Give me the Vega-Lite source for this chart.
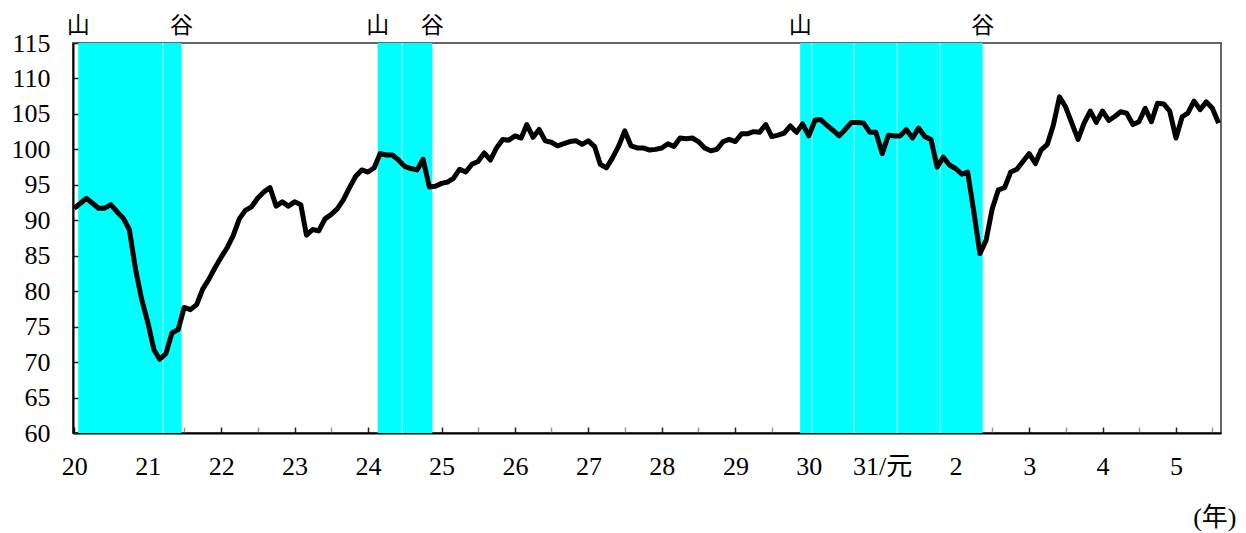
{
  "$schema": "https://vega.github.io/schema/vega-lite/v6.json",
  "width": 1148,
  "height": 390,
  "autosize": {"type": "none"},
  "padding": {"left": 73, "top": 43, "right": 25, "bottom": 100},
  "background": "white",
  "config": {"view": {"stroke": "#666", "strokeWidth": 2}, "font": "Liberation Serif"},
  "datasets": {
    "bands": [
      {"start": "2008-01-21", "end": "2009-06-18"},
      {"start": "2012-02-18", "end": "2012-11-16"},
      {"start": "2017-11-19", "end": "2020-05-15"}
    ],
    "seams": [
      {"date": "2009-03-17"}, {"date": "2012-06-19"}, {"date": "2018-01-16"},
      {"date": "2018-08-15"}, {"date": "2019-03-16"}, {"date": "2019-10-16"}
    ],
    "iip": [
      {"month": "2008-01-01", "value": 91.7}, {"month": "2008-02-01", "value": 92.4}, {"month": "2008-03-01", "value": 93.1}, {"month": "2008-04-01", "value": 92.4}, {"month": "2008-05-01", "value": 91.7}, {"month": "2008-06-01", "value": 91.7}, {"month": "2008-07-01", "value": 92.2}, {"month": "2008-08-01", "value": 91.2}, {"month": "2008-09-01", "value": 90.3}, {"month": "2008-10-01", "value": 88.7}, {"month": "2008-11-01", "value": 83.1}, {"month": "2008-12-01", "value": 78.9},
      {"month": "2009-01-01", "value": 75.6}, {"month": "2009-02-01", "value": 71.7}, {"month": "2009-03-01", "value": 70.4}, {"month": "2009-04-01", "value": 71.2}, {"month": "2009-05-01", "value": 74.1}, {"month": "2009-06-01", "value": 74.6}, {"month": "2009-07-01", "value": 77.7}, {"month": "2009-08-01", "value": 77.4}, {"month": "2009-09-01", "value": 78.1}, {"month": "2009-10-01", "value": 80.3}, {"month": "2009-11-01", "value": 81.7}, {"month": "2009-12-01", "value": 83.3},
      {"month": "2010-01-01", "value": 84.8}, {"month": "2010-02-01", "value": 86.2}, {"month": "2010-03-01", "value": 87.8}, {"month": "2010-04-01", "value": 90.2}, {"month": "2010-05-01", "value": 91.4}, {"month": "2010-06-01", "value": 91.9}, {"month": "2010-07-01", "value": 93.1}, {"month": "2010-08-01", "value": 94.0}, {"month": "2010-09-01", "value": 94.6}, {"month": "2010-10-01", "value": 92.0}, {"month": "2010-11-01", "value": 92.6}, {"month": "2010-12-01", "value": 92.0},
      {"month": "2011-01-01", "value": 92.6}, {"month": "2011-02-01", "value": 92.2}, {"month": "2011-03-01", "value": 87.9}, {"month": "2011-04-01", "value": 88.7}, {"month": "2011-05-01", "value": 88.5}, {"month": "2011-06-01", "value": 90.2}, {"month": "2011-07-01", "value": 90.8}, {"month": "2011-08-01", "value": 91.6}, {"month": "2011-09-01", "value": 92.9}, {"month": "2011-10-01", "value": 94.6}, {"month": "2011-11-01", "value": 96.2}, {"month": "2011-12-01", "value": 97.1},
      {"month": "2012-01-01", "value": 96.8}, {"month": "2012-02-01", "value": 97.4}, {"month": "2012-03-01", "value": 99.4}, {"month": "2012-04-01", "value": 99.2}, {"month": "2012-05-01", "value": 99.2}, {"month": "2012-06-01", "value": 98.5}, {"month": "2012-07-01", "value": 97.6}, {"month": "2012-08-01", "value": 97.3}, {"month": "2012-09-01", "value": 97.1}, {"month": "2012-10-01", "value": 98.6}, {"month": "2012-11-01", "value": 94.7}, {"month": "2012-12-01", "value": 94.8},
      {"month": "2013-01-01", "value": 95.2}, {"month": "2013-02-01", "value": 95.4}, {"month": "2013-03-01", "value": 95.9}, {"month": "2013-04-01", "value": 97.2}, {"month": "2013-05-01", "value": 96.8}, {"month": "2013-06-01", "value": 97.9}, {"month": "2013-07-01", "value": 98.3}, {"month": "2013-08-01", "value": 99.5}, {"month": "2013-09-01", "value": 98.5}, {"month": "2013-10-01", "value": 100.2}, {"month": "2013-11-01", "value": 101.4}, {"month": "2013-12-01", "value": 101.3},
      {"month": "2014-01-01", "value": 101.9}, {"month": "2014-02-01", "value": 101.6}, {"month": "2014-03-01", "value": 103.5}, {"month": "2014-04-01", "value": 101.7}, {"month": "2014-05-01", "value": 102.8}, {"month": "2014-06-01", "value": 101.2}, {"month": "2014-07-01", "value": 101.0}, {"month": "2014-08-01", "value": 100.5}, {"month": "2014-09-01", "value": 100.8}, {"month": "2014-10-01", "value": 101.1}, {"month": "2014-11-01", "value": 101.2}, {"month": "2014-12-01", "value": 100.7},
      {"month": "2015-01-01", "value": 101.2}, {"month": "2015-02-01", "value": 100.4}, {"month": "2015-03-01", "value": 97.9}, {"month": "2015-04-01", "value": 97.4}, {"month": "2015-05-01", "value": 98.8}, {"month": "2015-06-01", "value": 100.5}, {"month": "2015-07-01", "value": 102.6}, {"month": "2015-08-01", "value": 100.5}, {"month": "2015-09-01", "value": 100.2}, {"month": "2015-10-01", "value": 100.2}, {"month": "2015-11-01", "value": 99.9}, {"month": "2015-12-01", "value": 100.0},
      {"month": "2016-01-01", "value": 100.2}, {"month": "2016-02-01", "value": 100.8}, {"month": "2016-03-01", "value": 100.4}, {"month": "2016-04-01", "value": 101.6}, {"month": "2016-05-01", "value": 101.5}, {"month": "2016-06-01", "value": 101.6}, {"month": "2016-07-01", "value": 101.1}, {"month": "2016-08-01", "value": 100.2}, {"month": "2016-09-01", "value": 99.8}, {"month": "2016-10-01", "value": 100.0}, {"month": "2016-11-01", "value": 101.1}, {"month": "2016-12-01", "value": 101.4},
      {"month": "2017-01-01", "value": 101.1}, {"month": "2017-02-01", "value": 102.2}, {"month": "2017-03-01", "value": 102.2}, {"month": "2017-04-01", "value": 102.5}, {"month": "2017-05-01", "value": 102.4}, {"month": "2017-06-01", "value": 103.5}, {"month": "2017-07-01", "value": 101.8}, {"month": "2017-08-01", "value": 102.0}, {"month": "2017-09-01", "value": 102.3}, {"month": "2017-10-01", "value": 103.3}, {"month": "2017-11-01", "value": 102.4}, {"month": "2017-12-01", "value": 103.6},
      {"month": "2018-01-01", "value": 101.9}, {"month": "2018-02-01", "value": 104.1}, {"month": "2018-03-01", "value": 104.2}, {"month": "2018-04-01", "value": 103.4}, {"month": "2018-05-01", "value": 102.7}, {"month": "2018-06-01", "value": 101.9}, {"month": "2018-07-01", "value": 102.8}, {"month": "2018-08-01", "value": 103.8}, {"month": "2018-09-01", "value": 103.8}, {"month": "2018-10-01", "value": 103.7}, {"month": "2018-11-01", "value": 102.4}, {"month": "2018-12-01", "value": 102.4},
      {"month": "2019-01-01", "value": 99.4}, {"month": "2019-02-01", "value": 102.0}, {"month": "2019-03-01", "value": 101.9}, {"month": "2019-04-01", "value": 101.9}, {"month": "2019-05-01", "value": 102.8}, {"month": "2019-06-01", "value": 101.6}, {"month": "2019-07-01", "value": 103.0}, {"month": "2019-08-01", "value": 101.8}, {"month": "2019-09-01", "value": 101.4}, {"month": "2019-10-01", "value": 97.5}, {"month": "2019-11-01", "value": 98.9}, {"month": "2019-12-01", "value": 97.8},
      {"month": "2020-01-01", "value": 97.3}, {"month": "2020-02-01", "value": 96.5}, {"month": "2020-03-01", "value": 96.8}, {"month": "2020-04-01", "value": 91.2}, {"month": "2020-05-01", "value": 85.3}, {"month": "2020-06-01", "value": 87.2}, {"month": "2020-07-01", "value": 91.6}, {"month": "2020-08-01", "value": 94.3}, {"month": "2020-09-01", "value": 94.6}, {"month": "2020-10-01", "value": 96.8}, {"month": "2020-11-01", "value": 97.2}, {"month": "2020-12-01", "value": 98.3},
      {"month": "2021-01-01", "value": 99.4}, {"month": "2021-02-01", "value": 98.0}, {"month": "2021-03-01", "value": 99.9}, {"month": "2021-04-01", "value": 100.7}, {"month": "2021-05-01", "value": 103.4}, {"month": "2021-06-01", "value": 107.4}, {"month": "2021-07-01", "value": 106.0}, {"month": "2021-08-01", "value": 103.7}, {"month": "2021-09-01", "value": 101.4}, {"month": "2021-10-01", "value": 103.7}, {"month": "2021-11-01", "value": 105.4}, {"month": "2021-12-01", "value": 103.8},
      {"month": "2022-01-01", "value": 105.4}, {"month": "2022-02-01", "value": 104.1}, {"month": "2022-03-01", "value": 104.6}, {"month": "2022-04-01", "value": 105.3}, {"month": "2022-05-01", "value": 105.1}, {"month": "2022-06-01", "value": 103.5}, {"month": "2022-07-01", "value": 103.9}, {"month": "2022-08-01", "value": 105.8}, {"month": "2022-09-01", "value": 103.9}, {"month": "2022-10-01", "value": 106.5}, {"month": "2022-11-01", "value": 106.4}, {"month": "2022-12-01", "value": 105.4},
      {"month": "2023-01-01", "value": 101.6}, {"month": "2023-02-01", "value": 104.6}, {"month": "2023-03-01", "value": 105.1}, {"month": "2023-04-01", "value": 106.8}, {"month": "2023-05-01", "value": 105.6}, {"month": "2023-06-01", "value": 106.7}, {"month": "2023-07-01", "value": 105.8}, {"month": "2023-08-01", "value": 103.7}
    ]
  },
  "layer": [
    {
      "data": {"name": "bands"},
      "mark": {"type": "rect", "color": "#00FFFF"},
      "encoding": {
        "x": {
          "field": "start", "type": "temporal",
          "scale": {"type": "utc", "domain": ["2007-12-26", "2023-08-13"]},
          "axis": {
            "title": "(年)",
            "titleFont": "Liberation Serif, Noto Sans CJK JP",
            "titleFontSize": 26,
            "titleFontWeight": "normal",
            "titleColor": "#000",
            "titleX": 1163,
            "titleY": 84,
            "titleAlign": "right",
            "titleBaseline": "middle",
            "tickCount": {"interval": "month", "step": 6},
            "labelExpr": "utcmonth(datum.value) == 0 ? (utcyear(datum.value) == 2019 ? '31/元' : (utcyear(datum.value) < 2019 ? '' + (utcyear(datum.value) - 1988) : '' + (utcyear(datum.value) - 2018))) : ''",
            "labelFont": "Liberation Serif, Noto Sans CJK JP",
            "labelFontSize": 26,
            "labelColor": "#000",
            "labelFlush": false,
            "labelOverlap": false,
            "labelBound": false,
            "labelPadding": 26,
            "tickSize": -6,
            "tickWidth": 1.5,
            "tickColor": {"condition": {"test": "utcmonth(datum.value) == 0", "value": "#222"}, "value": "#999"},
            "domainColor": "#000",
            "domainWidth": 2,
            "grid": false
          }
        },
        "x2": {"field": "end"}
      }
    },
    {
      "data": {"name": "seams"},
      "mark": {"type": "rule", "color": "#c8ffff", "strokeWidth": 0.8},
      "encoding": {
        "x": {"field": "date", "type": "temporal", "axis": {"title": "(年)"}}
      }
    },
    {
      "data": {"name": "iip"},
      "mark": {"type": "line", "color": "#000", "strokeWidth": 5, "strokeJoin": "round"},
      "encoding": {
        "x": {"field": "month", "type": "temporal", "axis": {"title": "(年)"}},
        "y": {
          "field": "value", "type": "quantitative",
          "scale": {"domain": [60, 115], "nice": false, "zero": false},
          "axis": {
            "title": null,
            "values": [60, 65, 70, 75, 80, 85, 90, 95, 100, 105, 110, 115],
            "labelFont": "Liberation Serif",
            "labelFontSize": 26,
            "labelColor": "#000",
            "labelPadding": 30,
            "labelFlush": false,
            "labelOverlap": false,
            "labelBound": false,
            "tickSize": -7,
            "tickWidth": 1.5,
            "tickColor": "#222",
            "domainColor": "#000",
            "domainWidth": 2,
            "grid": false
          }
        }
      }
    },
    {
      "data": {"name": "bands"},
      "mark": {"type": "text", "text": "山", "font": "Noto Sans CJK JP", "fontSize": 23, "color": "#000", "align": "center", "baseline": "middle"},
      "encoding": {
        "x": {"field": "start", "type": "temporal", "axis": {"title": "(年)"}},
        "y": {
          "datum": 117.4, "type": "quantitative",
          "scale": {"domain": [60, 115], "nice": false, "zero": false},
          "axis": {
            "title": null,
            "values": [60, 65, 70, 75, 80, 85, 90, 95, 100, 105, 110, 115],
            "labelFont": "Liberation Serif",
            "labelFontSize": 26,
            "labelColor": "#000",
            "labelPadding": 30,
            "labelFlush": false,
            "labelOverlap": false,
            "labelBound": false,
            "tickSize": -7,
            "tickWidth": 1.5,
            "tickColor": "#222",
            "domainColor": "#000",
            "domainWidth": 2,
            "grid": false
          }
        }
      }
    },
    {
      "data": {"name": "bands"},
      "mark": {"type": "text", "text": "谷", "font": "Noto Sans CJK JP", "fontSize": 23, "color": "#000", "align": "center", "baseline": "middle"},
      "encoding": {
        "x": {"field": "end", "type": "temporal", "axis": {"title": "(年)"}},
        "y": {
          "datum": 117.4, "type": "quantitative",
          "scale": {"domain": [60, 115], "nice": false, "zero": false},
          "axis": {
            "title": null,
            "values": [60, 65, 70, 75, 80, 85, 90, 95, 100, 105, 110, 115],
            "labelFont": "Liberation Serif",
            "labelFontSize": 26,
            "labelColor": "#000",
            "labelPadding": 30,
            "labelFlush": false,
            "labelOverlap": false,
            "labelBound": false,
            "tickSize": -7,
            "tickWidth": 1.5,
            "tickColor": "#222",
            "domainColor": "#000",
            "domainWidth": 2,
            "grid": false
          }
        }
      }
    }
  ]
}
